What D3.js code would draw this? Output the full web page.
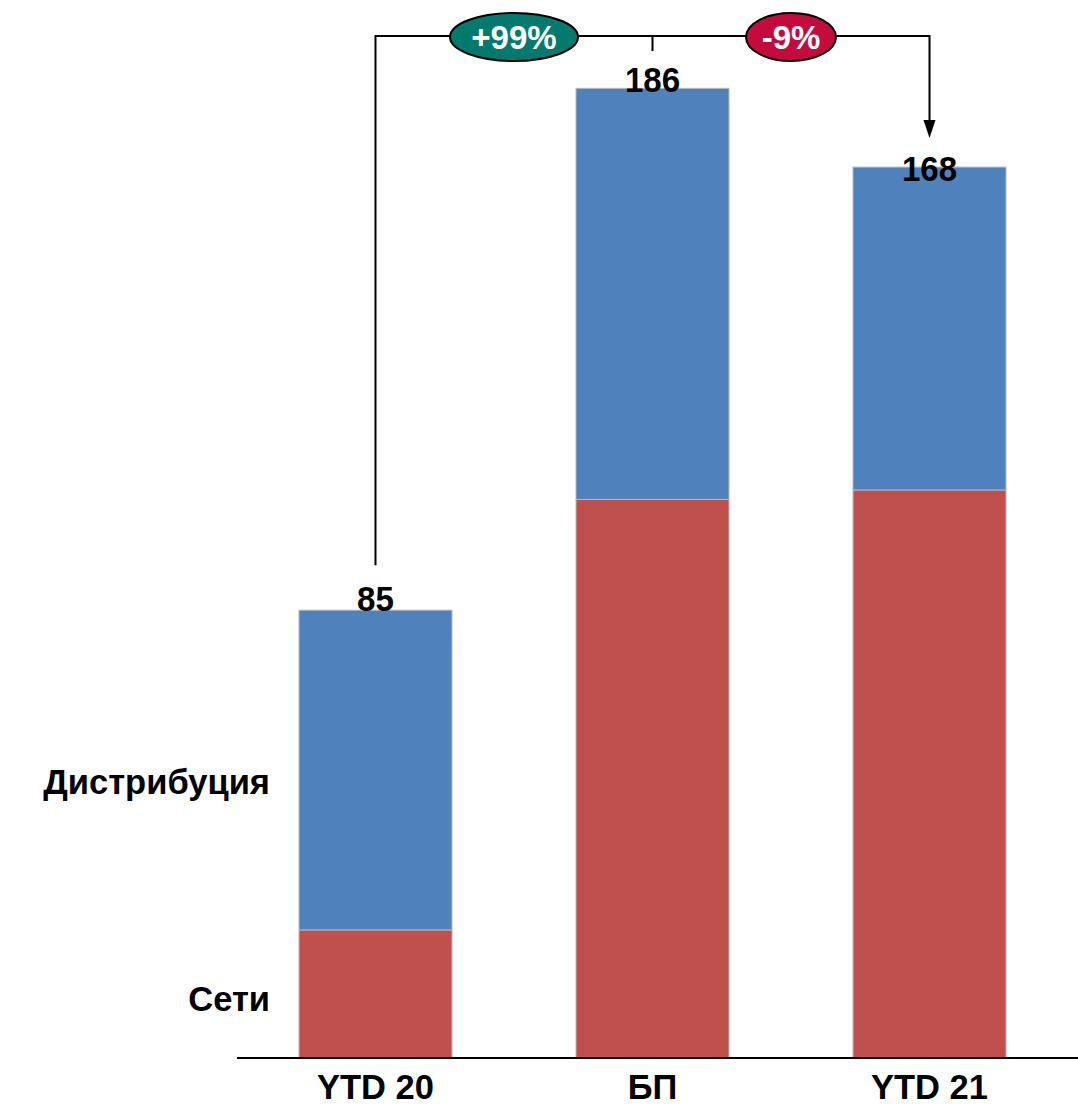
<!DOCTYPE html>
<html><head><meta charset="utf-8">
<script src="https://cdn.jsdelivr.net/npm/d3@7"></script>
<style>body{margin:0;background:#fff}svg{display:block}text{font-family:"Liberation Sans",Arial,sans-serif;font-weight:bold}</style>
</head><body><svg id="c" width="1078" height="1112"></svg>
<script>
const categories = ["YTD 20", "БП", "YTD 21"];
const seriesNames = ["Сети", "Дистрибуция"];
const seti = [24.4, 106.4, 108.2];
const distr = [60.9, 78.3, 61.5];
const totalLabels = ["85", "186", "168"];
const changeLabels = ["+99%", "-9%"];
const colors = ["#c0504d", "#4f81bd"];
const labelDy = [1, 4, 14];

const svg = d3.select("#c");
const x = d3.scaleBand().domain(categories).range([237, 1068]).paddingInner(0.4477).paddingOuter(0.2238);
const y = d3.scaleLinear().domain([0, 190]).range([1058, 1058 - 190 * 5.25]);

const rows = categories.map((c, i) => ({cat: c, "Сети": seti[i], "Дистрибуция": distr[i]}));
const stack = d3.stack().keys(seriesNames)(rows);

svg.selectAll("g.s").data(stack).join("g").attr("fill", (d, i) => colors[i])
  .selectAll("rect").data(d => d).join("rect")
  .attr("x", d => x(d.data.cat)).attr("width", x.bandwidth())
  .attr("y", d => y(d[1])).attr("height", d => y(d[0]) - y(d[1]))
  .attr("stroke", "#b8b8b8").attr("stroke-width", 1);

// axis
const ax = svg.append("g").attr("transform", `translate(0,${y(0)})`)
  .call(d3.axisBottom(x).tickSize(0).tickPadding(17));
ax.select(".domain").attr("stroke", "#000").attr("stroke-width", 2).attr("d", "M237,0H1078");
ax.selectAll("text").attr("font-size", 34.5).attr("font-family", "'Liberation Sans',Arial,sans-serif").attr("font-weight", "bold").attr("fill", "#000");

// totals
const tops = stack[1];
svg.selectAll("text.tot").data(tops).join("text").attr("class", "tot")
  .attr("transform", (d, i) => `translate(${x(d.data.cat) + x.bandwidth() / 2},${y(d[1]) + labelDy[i]}) scale(0.92,1)`)
  .attr("text-anchor", "middle").attr("font-size", 36).text((d, i) => totalLabels[i]);

// series labels
svg.append("text").attr("x", 270).attr("y", 794).attr("text-anchor", "end").attr("font-size", 34.5).text(seriesNames[1]);
svg.append("text").attr("x", 270).attr("y", 1011).attr("text-anchor", "end").attr("font-size", 34.5).text(seriesNames[0]);

// connector
const cx = i => x(categories[i]) + x.bandwidth() / 2;
const lineY = 36;
svg.append("path").attr("fill", "none").attr("stroke", "#000").attr("stroke-width", 2)
  .attr("d", `M${cx(0)},${y(tops[0][1]) - 45}V${lineY}H${cx(2)}V${y(tops[2][1]) - 45}`);
svg.append("path").attr("fill", "none").attr("stroke", "#000").attr("stroke-width", 2)
  .attr("d", `M${cx(1)},${lineY}V${lineY + 15}`);
svg.append("path").attr("fill", "#000")
  .attr("d", `M${cx(2) - 6},${y(tops[2][1]) - 47}L${cx(2) + 6},${y(tops[2][1]) - 47}L${cx(2)},${y(tops[2][1]) - 29}Z`);

const bubbles = [{x: 514, rx: 64, fill: "#047a6e", t: changeLabels[0]}, {x: 791, rx: 45, fill: "#c30b3e", t: changeLabels[1]}];
bubbles.forEach(b => {
  svg.append("ellipse").attr("cx", b.x).attr("cy", 37).attr("rx", b.rx).attr("ry", 24)
    .attr("fill", b.fill).attr("stroke", "#000").attr("stroke-width", 2);
  svg.append("text").attr("x", b.x).attr("y", 49).attr("text-anchor", "middle")
    .attr("font-size", 33).attr("fill", "#fff").text(b.t);
});
</script></body></html>
